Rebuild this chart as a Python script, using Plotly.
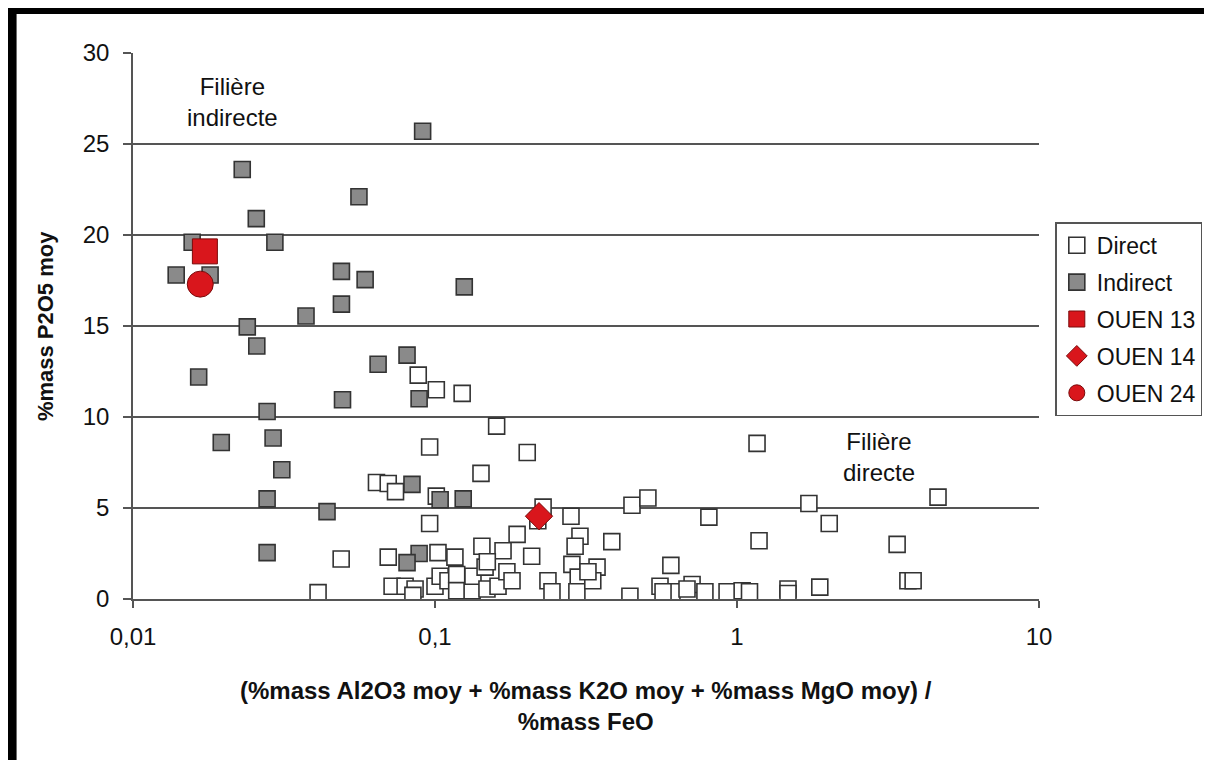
import plotly.graph_objects as go

# ---- data ----
direct_x = [0.088, 0.101, 0.123, 0.160, 0.096, 0.202, 1.165, 0.142, 0.064, 0.070,
            0.074, 0.101, 0.096, 0.228, 0.219, 0.282, 0.385, 0.449, 0.507, 0.807,
            1.73, 2.02, 4.63, 1.183, 3.39, 0.604, 3.68, 3.83, 0.302, 0.291,
            0.041, 0.0489, 0.070, 0.0721, 0.0796, 0.0859, 0.0845, 0.1023, 0.1164, 0.143,
            0.187, 0.168, 0.209, 0.100, 0.104, 0.1104, 0.118, 0.118, 0.1327, 0.1336,
            0.1465, 0.1486, 0.1617, 0.173, 0.1799, 0.2366, 0.244, 0.284, 0.298, 0.295,
            0.344, 0.333, 0.321, 0.442, 0.556, 0.609, 0.710, 0.683, 0.783, 0.927,
            1.04, 1.10, 1.475, 1.475, 1.88, 0.569, 0.149]
direct_y = [12.3, 11.5, 11.3, 9.5, 8.35, 8.05, 8.55, 6.9, 6.4, 6.35,
            5.9, 5.65, 4.15, 5.05, 4.3, 4.55, 3.15, 5.15, 5.55, 4.5,
            5.25, 4.15, 5.6, 3.2, 3.0, 1.85, 1.0, 1.0, 3.45, 2.9,
            0.35, 2.2, 2.3, 0.7, 0.7, 0.55, 0.2, 2.55, 2.3, 2.9,
            3.55, 2.65, 2.35, 0.7, 1.25, 1.0, 1.35, 0.45, 0.45, 1.25,
            1.75, 0.55, 0.7, 1.5, 1.0, 1.0, 0.4, 1.9, 1.2, 0.4,
            1.75, 1.0, 1.5, 0.15, 0.7, 0.4, 0.8, 0.55, 0.4, 0.4,
            0.45, 0.4, 0.55, 0.3, 0.65, 0.4, 2.05]

indirect_x = [0.091, 0.023, 0.056, 0.0256, 0.0157, 0.0295, 0.0139, 0.018, 0.049, 0.0587,
              0.125, 0.049, 0.0374, 0.0239, 0.0257, 0.0808, 0.0648, 0.0165, 0.0886, 0.0494,
              0.0278, 0.0196, 0.0291, 0.0311, 0.0839, 0.104, 0.124, 0.0278, 0.0439, 0.0278,
              0.0886, 0.0808]
indirect_y = [25.7, 23.6, 22.1, 20.9, 19.6, 19.6, 17.8, 17.8, 18.0, 17.55,
              17.15, 16.2, 15.55, 14.95, 13.9, 13.4, 12.9, 12.2, 11.0, 10.95,
              10.3, 8.6, 8.85, 7.1, 6.3, 5.45, 5.5, 5.5, 4.8, 2.55,
              2.5, 2.0]

ouen13_x, ouen13_y = [0.0173], [19.1]
ouen14_x, ouen14_y = [0.221], [4.55]
ouen24_x, ouen24_y = [0.0167], [17.3]

x_tickvals = [0.01, 0.1, 1, 10]
x_ticktext = ["0,01", "0,1", "1", "10"]
y_tickvals = [0, 5, 10, 15, 20, 25, 30]

FONT = "Arial, 'Liberation Sans', sans-serif"
TXT = "#111111"

fig = go.Figure()
fig.add_trace(go.Scatter(x=direct_x, y=direct_y, mode="markers", name="Direct",
                         legendgroup="a",
                         marker=dict(symbol="square", size=16, color="white",
                                     line=dict(color="#333333", width=1.6))))
fig.add_trace(go.Scatter(x=indirect_x, y=indirect_y, mode="markers", name="Indirect",
                         legendgroup="b",
                         marker=dict(symbol="square", size=16, color="#8a8a8a",
                                     line=dict(color="#333333", width=1.6))))
fig.add_trace(go.Scatter(x=ouen13_x, y=ouen13_y, mode="markers", name="OUEN 13",
                         legendgroup="c",
                         marker=dict(symbol="square", size=25, color="#d9161c",
                                     line=dict(color="#7a0a0a", width=1))))
fig.add_trace(go.Scatter(x=ouen14_x, y=ouen14_y, mode="markers", name="OUEN 14",
                         legendgroup="d",
                         marker=dict(symbol="diamond", size=21, color="#d9161c",
                                     line=dict(color="#7a0a0a", width=1))))
fig.add_trace(go.Scatter(x=ouen24_x, y=ouen24_y, mode="markers", name="OUEN 24",
                         legendgroup="e",
                         marker=dict(symbol="circle", size=26, color="#d9161c",
                                     line=dict(color="#7a0a0a", width=1))))

fig.update_xaxes(type="log", range=[-2, 1], tickvals=x_tickvals, ticktext=x_ticktext,
                 showgrid=False, showline=True, linecolor="#555555", linewidth=1.5,
                 ticks="outside", ticklen=7, tickcolor="#555555", tickwidth=1.5,
                 tickfont=dict(family=FONT, size=24, color=TXT),
                 zeroline=False, ticklabelstandoff=8)
fig.update_yaxes(range=[0, 30], tickvals=y_tickvals,
                 showgrid=True, gridcolor="#555555", gridwidth=1.5,
                 showline=True, linecolor="#555555", linewidth=1.5,
                 ticks="outside", ticklen=8, tickcolor="#555555", tickwidth=1.5,
                 tickfont=dict(family=FONT, size=24, color=TXT),
                 zeroline=False, ticklabelstandoff=9)

fig.update_layout(
    width=1204, height=752,
    margin=dict(l=125, r=173, t=45, b=161, autoexpand=False),
    paper_bgcolor="white", plot_bgcolor="white",
    showlegend=True,
    legend=dict(x=1.018, y=0.69, xanchor="left", yanchor="top",
                bordercolor="#555555", borderwidth=1.5, bgcolor="white",
                font=dict(family=FONT, size=23, color=TXT),
                tracegroupgap=4, traceorder="grouped", itemwidth=30),
    annotations=[
        dict(text="Filière<br>indirecte", xref="x", yref="y", x=-1.672, y=27.3,
             showarrow=False, font=dict(family=FONT, size=24, color=TXT)),
        dict(text="Filière<br>directe", xref="x", yref="y", x=0.47, y=7.8,
             showarrow=False, font=dict(family=FONT, size=24, color=TXT)),
        dict(text="<b>(%mass Al2O3 moy + %mass K2O moy + %mass MgO moy) /<br>%mass FeO</b>",
             xref="paper", yref="paper", x=0.5, y=-0.196, xanchor="center", yanchor="middle",
             showarrow=False, font=dict(family=FONT, size=24, color=TXT)),
        dict(text="<b>%mass P2O5 moy</b>", xref="paper", yref="paper",
             x=-0.097, y=0.5, xanchor="center", yanchor="middle", textangle=-90,
             showarrow=False, font=dict(family=FONT, size=22, color=TXT)),
    ],
    shapes=[
        dict(type="rect", xref="paper", yref="paper", x0=-0.139, x1=-0.1285,
             y0=-0.3, y1=1.083, fillcolor="black", line=dict(width=0)),
        dict(type="rect", xref="paper", yref="paper", x0=-0.139, x1=1.2,
             y0=1.0715, y1=1.083, fillcolor="black", line=dict(width=0)),
    ],
)

fig.write_html("out.html")
